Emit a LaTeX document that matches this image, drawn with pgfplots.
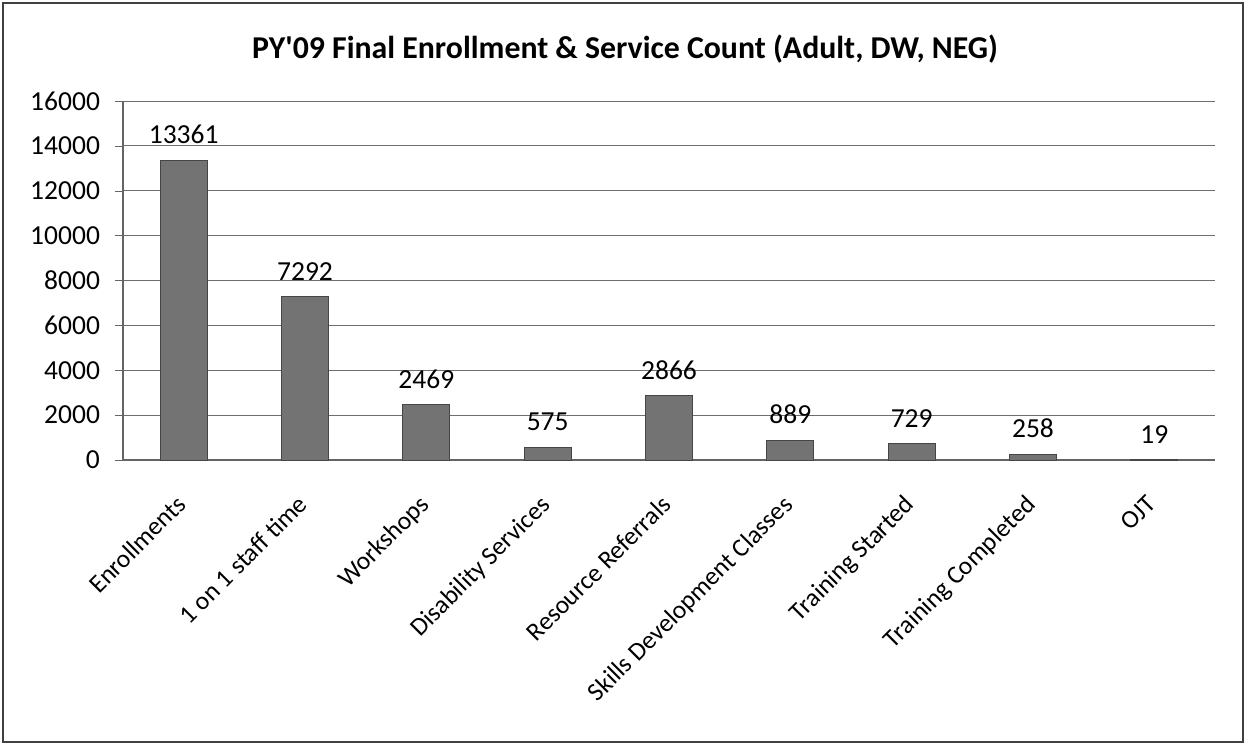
\documentclass[border=0pt]{standalone}
\usepackage{pgfplots}
\pgfplotsset{compat=1.18}
\usepackage{fontspec}
\setmainfont{Carlito}
\definecolor{barfill}{RGB}{115,115,115}
\definecolor{barline}{RGB}{70,70,70}
\definecolor{gridc}{RGB}{110,110,110}
\definecolor{axisc}{RGB}{100,100,100}
\begin{document}
\begin{tikzpicture}
\useasboundingbox (0,0) rectangle (623.5pt,373pt);
\draw[black!75, line width=0.9pt] (1.5pt,2pt) rectangle (621.5pt,371.5pt);
\node[font=\bfseries\fontsize{15.9}{18}\selectfont, anchor=base] at (312.5pt,343.75pt) {PY\textquotesingle09 Final Enrollment \& Service Count (Adult, DW, NEG)};
\begin{axis}[
  at={(61.5pt,143pt)}, anchor=south west,
  scale only axis, width=546pt, height=179.5pt,
  ymin=0, ymax=16000, ytick={0,2000,...,16000},
  xmin=-0.5, xmax=8.5,
  xtick={0,...,8},
  xticklabels={Enrollments,1 on 1 staff time,Workshops,Disability Services,Resource Referrals,Skills Development Classes,Training Started,Training Completed,OJT},
  x tick style={draw=none},
  extra x ticks={-0.5,0.5,...,8.5},
  extra x tick labels={},
  extra x tick style={grid=none, major tick length=4pt, tick style={draw=axisc}},
  axis x line*=bottom, axis y line*=left,
  axis line style={draw=axisc, line width=0.6pt},
  tick align=outside,
  y tick style={draw=axisc},
  major tick length=4pt,
  ymajorgrids, grid style={draw=gridc, line width=0.5pt},
  scaled y ticks=false,
  /pgf/number format/1000 sep={},
  /pgf/number format/assume math mode=true,
  yticklabel style={font=\fontsize{13.75}{15}\selectfont, xshift=-4pt},
  xticklabel style={font=\fontsize{12.8}{14}\selectfont, rotate=45, anchor=north east, inner sep=1pt, xshift=-11pt, yshift=-4.8pt},
  ybar, bar width=23.5pt,
  nodes near coords,
  every node near coord/.append style={font=\fontsize{13.75}{15}\selectfont, yshift=4.5pt},
]
\addplot[fill=barfill, draw=barline, line width=0.5pt] coordinates {
 (0,13361) (1,7292) (2,2469) (3,575) (4,2866) (5,889) (6,729) (7,258) (8,19)};
\end{axis}
\end{tikzpicture}
\end{document}
